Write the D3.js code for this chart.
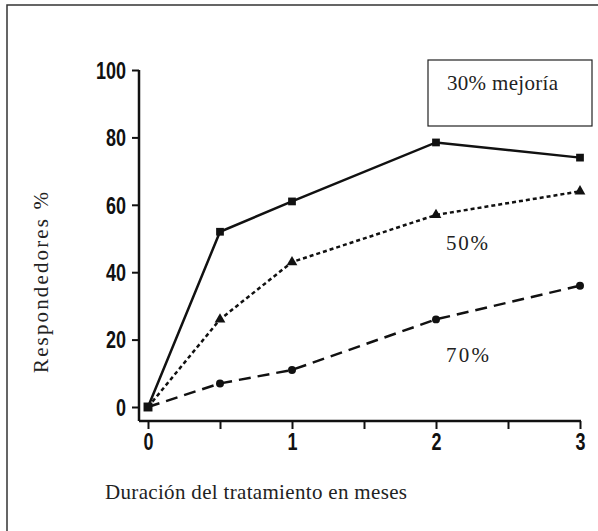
<!DOCTYPE html>
<html>
<head>
<meta charset="utf-8">
<script src="https://cdn.jsdelivr.net/npm/d3@7"></script>
<style>
  body { margin: 0; background: #fff; }
  .tick text { font-family: "Liberation Sans Narrow", "Liberation Sans", sans-serif; font-size: 23px; font-weight: bold; fill: #111; }
  .serif { font-family: "Liberation Serif", "DejaVu Serif", serif; fill: #222; }
</style>
</head>
<body>
<div id="chart"></div>
<script>
// datos
const meses = [0, 0.5, 1, 2, 3];
const mejoria30 = [0, 52, 61, 78.5, 74];
const mejoria50 = [0, 26, 43, 57, 64];
const mejoria70 = [0, 7, 11, 26, 36];
const yTicks = [0, 20, 40, 60, 80, 100];
const xTicks = [0, 0.5, 1, 1.5, 2, 2.5, 3];

const ancho = 598, alto = 531;

const svg = d3.select("#chart")
    .append("svg")
    .attr("width", ancho)
    .attr("height", alto);

// marco exterior
svg.append("rect")
    .attr("x", 7).attr("y", 5)
    .attr("width", 620).attr("height", 620)
    .attr("fill", "none")
    .attr("stroke", "#333")
    .attr("stroke-width", 1.5);

const x = d3.scaleLinear().domain([0, 3]).range([148, 580]);
const y = d3.scaleLinear().domain([0, 100]).range([407, 70]);
const ejeX = 421, ejeY = 139;

// numeros estrechos como en el original
const estrechar = sel => sel
    .attr("textLength", function () { return this.textContent.length * 10; })
    .attr("lengthAdjust", "spacingAndGlyphs");

// ejes
const gy = svg.append("g")
    .attr("transform", `translate(${ejeY},0)`)
    .call(d3.axisLeft(y).tickValues(yTicks).tickSize(7).tickSizeOuter(0).tickPadding(6));
gy.select(".domain").remove();
gy.selectAll(".tick line").attr("stroke", "#111").attr("stroke-width", 2);
gy.selectAll(".tick text").attr("dy", "0.36em").call(estrechar);

const gx = svg.append("g")
    .attr("transform", `translate(0,${ejeX})`)
    .call(d3.axisBottom(x).tickValues(xTicks).tickSize(8).tickSizeOuter(0).tickPadding(5)
        .tickFormat(d => Number.isInteger(d) ? d : ""));
gx.select(".domain").remove();
gx.selectAll(".tick line").attr("stroke", "#111").attr("stroke-width", 2);
gx.selectAll(".tick text").filter(function () { return this.textContent; }).call(estrechar);

svg.append("line")
    .attr("x1", ejeY).attr("x2", ejeY)
    .attr("y1", y(100)).attr("y2", ejeX)
    .attr("stroke", "#111").attr("stroke-width", 2.5);
svg.append("line")
    .attr("x1", ejeY).attr("x2", x(3) + 1)
    .attr("y1", ejeX).attr("y2", ejeX)
    .attr("stroke", "#111").attr("stroke-width", 2.5);

// lineas
const linea = d3.line().x((d, i) => x(meses[i])).y(d => y(d));

const series = [
    { valores: mejoria30, dash: null, marca: d3.symbolSquare, tam: 60 },
    { valores: mejoria50, dash: "4,3", marca: d3.symbolTriangle, tam: 50 },
    { valores: mejoria70, dash: "12,7", marca: d3.symbolCircle, tam: 50 }
];

series.forEach(s => {
    svg.append("path")
        .attr("d", linea(s.valores))
        .attr("fill", "none")
        .attr("stroke", "#111")
        .attr("stroke-width", 2.5)
        .attr("stroke-dasharray", s.dash);

    svg.selectAll(null)
        .data(s.valores.slice(1))
        .enter().append("path")
        .attr("d", d3.symbol().type(s.marca).size(s.tam))
        .attr("transform", (d, i) => `translate(${x(meses[i + 1])},${y(d)})`)
        .attr("fill", "#111");
});

// punto de origen
svg.append("path")
    .attr("d", d3.symbol().type(d3.symbolSquare).size(80))
    .attr("transform", `translate(${x(0)},${y(0)})`)
    .attr("fill", "#111");

// caja de leyenda
svg.append("rect")
    .attr("x", 428).attr("y", 60)
    .attr("width", 164).attr("height", 66)
    .attr("fill", "#fff")
    .attr("stroke", "#222")
    .attr("stroke-width", 1.2);

svg.append("text").attr("class", "serif")
    .attr("x", 447).attr("y", 90)
    .attr("font-size", 21)
    .attr("textLength", 111)
    .text("30% mejoría");

svg.append("text").attr("class", "serif")
    .attr("x", 446).attr("y", 250)
    .attr("font-size", 21)
    .attr("textLength", 42)
    .text("50%");

svg.append("text").attr("class", "serif")
    .attr("x", 446).attr("y", 362)
    .attr("font-size", 21)
    .attr("textLength", 43)
    .text("70%");

// titulos de ejes
svg.append("text").attr("class", "serif")
    .attr("x", 105).attr("y", 499)
    .attr("font-size", 21)
    .attr("textLength", 302)
    .text("Duración del tratamiento en meses");

svg.append("text").attr("class", "serif")
    .attr("transform", "translate(48,373) rotate(-90)")
    .attr("font-size", 21)
    .attr("textLength", 181)
    .text("Respondedores %");
</script>
</body>
</html>
